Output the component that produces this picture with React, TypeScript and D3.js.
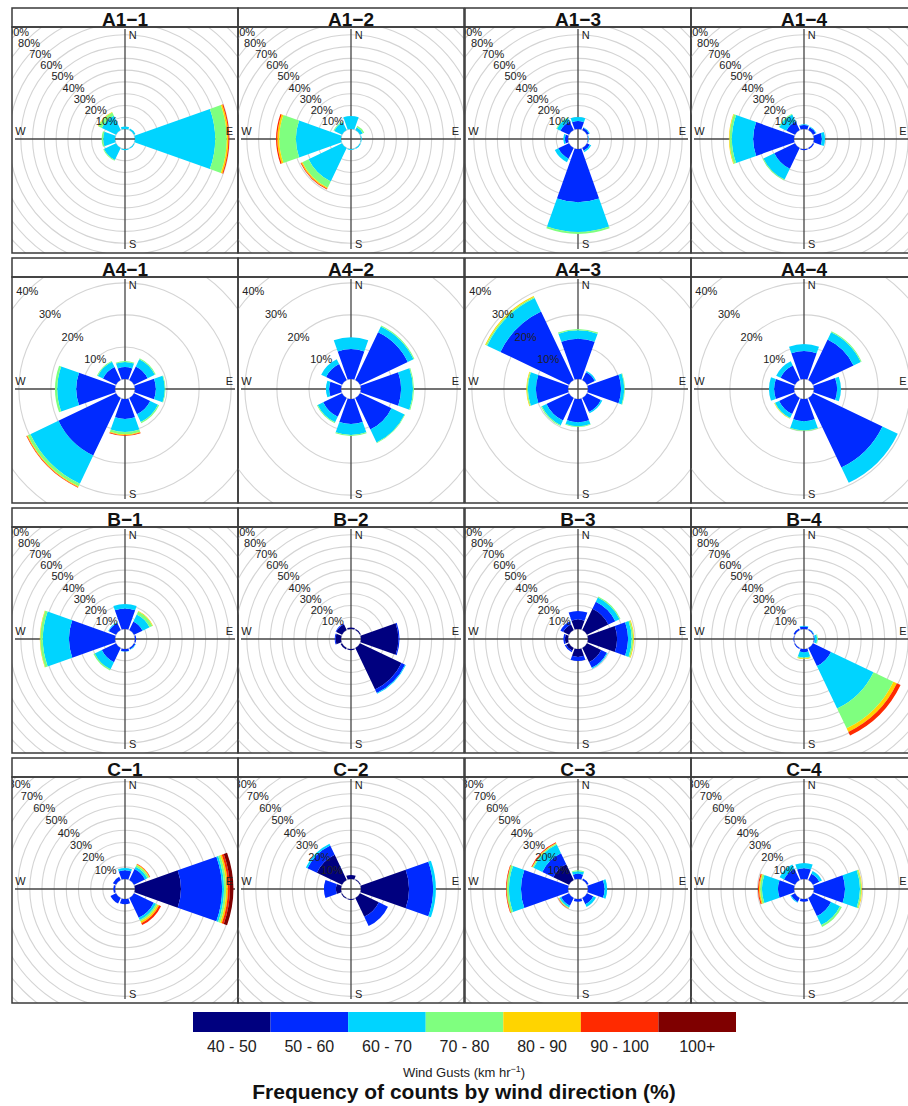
import React, { useEffect, useRef } from 'react';
import * as d3 from 'd3';

// speed classes (km/h) and their colours
const speedBins = ['40 - 50', '50 - 60', '60 - 70', '70 - 80', '80 - 90', '90 - 100', '100+'];
const binColors = ['#00007F', '#002AFF', '#00D4FF', '#7FFF7F', '#FFD400', '#FF2A00', '#7F0000'];

// wind direction sectors, degrees clockwise from north
const directions = [0, 45, 90, 135, 180, 225, 270, 315];
const compassPoints = ['N', 'E', 'S', 'W'];

const panelNames = [
    ['A1−1', 'A1−2', 'A1−3', 'A1−4'],
    ['A4−1', 'A4−2', 'A4−3', 'A4−4'],
    ['B−1', 'B−2', 'B−3', 'B−4'],
    ['C−1', 'C−2', 'C−3', 'C−4'],
];

// max frequency (%) of each row of roses, and the spacing of grey rings (%)
const rowMaxFreq = [63.7, 31.2, 63.7, 57.5];
const rowGridStep = [7.5, 10, 7.5, 7];
const labelStep = 10;

// frequency (%) per direction [N, NE, E, SE, S, SW, W, NW], per speed class
const A1_1 = [
    [0, 0, 1.5, 0, 0, 0, 0],
    [0, 0, 1, 0, 0, 0, 0],
    [0, 0, 51, 7.4, 1.0, 0.6, 0],
    [0, 0, 0.5, 0, 0, 0, 0],
    [0, 0, 0.8, 0, 0, 0, 0],
    [0, 0, 8.5, 0.5, 0, 0, 0],
    [0, 0, 7.5, 1, 0, 0, 0],
    [0, 0, 10, 2.3, 0.4, 0, 0],
];
const A1_2 = [
    [0, 0, 8.3, 0, 0, 0, 0],
    [0, 0, 2, 1, 0, 0, 0],
    [0, 0, 0.5, 0, 0, 0, 0],
    [0, 0, 0.6, 0, 0, 0, 0],
    [0, 0, 0.6, 0, 0, 0, 0],
    [0, 0, 23.6, 4.4, 0.8, 0.5, 0],
    [0, 0, 28.7, 10.6, 1.2, 0.8, 0],
    [0, 0, 5.5, 0.5, 0, 0, 0],
];
const A1_3 = [
    [0, 5, 2.6, 0, 0, 0, 0],
    [0, 1.5, 0.5, 0, 0, 0, 0],
    [0, 0.3, 0.3, 0, 0, 0, 0],
    [0, 2, 1, 0, 0, 0, 0],
    [0, 33.8, 19, 1.2, 0, 0, 0],
    [0, 7.5, 2.5, 0, 0, 0, 0],
    [0, 2, 1, 0, 0, 0, 0],
    [0, 6, 2.5, 0.5, 0, 0, 0],
];
const A1_4 = [
    [0, 2.5, 0.5, 0, 0, 0, 0],
    [0, 2, 0.5, 0, 0, 0, 0],
    [0, 5, 2, 0, 0, 0, 0],
    [0, 0.8, 0, 0, 0, 0, 0],
    [0, 0.8, 0, 0, 0, 0, 0],
    [0, 14.6, 7.7, 0.6, 0, 0, 0],
    [0, 26, 13.5, 1.5, 0.4, 0, 0],
    [0, 6, 5, 0.5, 0, 0, 0],
];
const A4_1 = [
    [0, 3.7, 1.6, 0.3, 0, 0, 0],
    [0, 4.7, 2.5, 0.3, 0, 0, 0],
    [0, 6.5, 2.8, 0.2, 0, 0, 0],
    [0, 5.6, 2.7, 0.4, 0, 0, 0],
    [0, 6.2, 4.1, 0.7, 0.3, 0.2, 0],
    [0, 19.9, 9.7, 0.9, 0.3, 0.2, 0],
    [0, 12.1, 5.9, 0.7, 0, 0, 0],
    [0, 4.5, 1.8, 0.3, 0, 0, 0],
];
const A4_2 = [
    [0, 9.3, 3.7, 0, 0, 0, 0],
    [0, 16.5, 2, 0.3, 0, 0, 0],
    [0, 12.5, 3.7, 0.3, 0, 0, 0],
    [0, 10.9, 4.5, 0.2, 0, 0, 0],
    [0, 7.8, 3.4, 0.3, 0, 0, 0],
    [0, 6.5, 1.9, 0.3, 0, 0, 0],
    [0, 3.7, 1, 0, 0, 0, 0],
    [0, 5.5, 1.7, 0, 0, 0, 0],
];
const A4_3 = [
    [0, 12.5, 2.7, 0.4, 0, 0, 0],
    [0, 2.7, 0.4, 0, 0, 0, 0],
    [0, 10.3, 1, 0.2, 0, 0, 0],
    [0, 4.8, 0.5, 0, 0, 0, 0],
    [0, 7.2, 1.3, 0.2, 0, 0, 0],
    [0, 7.8, 1.6, 0.3, 0, 0, 0],
    [0, 10, 2.5, 0.3, 0.2, 0, 0],
    [0, 23.7, 4.6, 0.4, 0.3, 0, 0],
];
const A4_4 = [
    [0, 8.7, 2.2, 0, 0, 0, 0],
    [0, 14, 2.5, 0.3, 0, 0, 0],
    [0, 7.2, 1.2, 0, 0, 0, 0],
    [0, 24, 5.3, 0, 0, 0, 0],
    [0, 6.9, 2.9, 0.2, 0, 0, 0],
    [0, 5.5, 1.4, 0.2, 0.1, 0, 0],
    [0, 6.2, 1.6, 0, 0, 0, 0],
    [0, 5, 1.5, 0, 0, 0, 0],
];
const B_1 = [
    [0, 13, 2.9, 0, 0, 0, 0],
    [0, 6, 5, 2, 0.4, 0, 0],
    [0, 0.8, 0, 0, 0, 0, 0],
    [0, 1, 0.3, 0, 0, 0, 0],
    [0, 1.5, 0.3, 0, 0, 0, 0],
    [0, 10, 5, 0.9, 0, 0, 0],
    [0, 29.3, 16.6, 1.6, 0.3, 0, 0],
    [0, 5, 0.5, 0, 0, 0, 0],
];
const B_2 = [
    [1, 0, 0, 0, 0, 0, 0],
    [0.6, 0, 0, 0, 0, 0, 0],
    [23.8, 0.7, 0, 0, 0, 0, 0],
    [29.3, 2.5, 0.5, 0, 0, 0, 0],
    [0.8, 0, 0, 0, 0, 0, 0],
    [1, 0, 0, 0, 0, 0, 0],
    [3.5, 0.5, 0, 0, 0, 0, 0],
    [4, 0.5, 0, 0, 0, 0, 0],
];
const B_3 = [
    [6, 5.5, 0, 0, 0, 0, 0],
    [15, 5, 3, 0.6, 0, 0, 0],
    [18.5, 7, 2.3, 1, 0.5, 0, 0],
    [10, 4, 0.6, 0, 0, 0, 0],
    [5, 2.6, 0, 0, 0, 0, 0],
    [2, 1, 0, 0, 0, 0, 0],
    [2, 1, 0, 0, 0, 0, 0],
    [4, 2, 0, 0, 0, 0, 0],
];
const B_4 = [
    [0, 1.5, 0.5, 0, 0, 0, 0],
    [0, 0.6, 0.3, 0, 0, 0, 0],
    [0, 0.5, 1.5, 0.5, 0, 0, 0],
    [0, 12.7, 30, 14, 2.5, 2.6, 0],
    [0, 2, 3.4, 0.7, 0.3, 0, 0],
    [0, 0.6, 0, 0, 0, 0, 0],
    [0, 0.4, 0, 0, 0, 0, 0],
    [0, 1, 0, 0, 0, 0, 0],
];
const C_1 = [
    [0, 5, 1.3, 0, 0, 0, 0],
    [0, 7, 1.5, 1, 0.5, 0.3, 0],
    [26.4, 23.6, 1.1, 1.2, 1, 1.2, 2],
    [0, 12.6, 1.4, 1, 1, 1.2, 0],
    [0, 3, 0, 0, 0, 0, 0],
    [0, 3.5, 0, 0, 0, 0, 0],
    [0, 1, 0, 0, 0, 0, 0],
    [0, 2, 0, 0, 0, 0, 0],
];
const C_2 = [
    [2.3, 0, 0, 0, 0, 0, 0],
    [0.5, 0, 0, 0, 0, 0, 0],
    [27.6, 13.8, 1.6, 0, 0, 0, 0],
    [12, 5.8, 0, 0, 0, 0, 0],
    [0.5, 0, 0, 0, 0, 0, 0],
    [0.5, 0, 0, 0, 0, 0, 0],
    [3, 6.8, 0, 0, 0, 0, 0],
    [16, 6, 1, 0, 0, 0, 0],
];
const C_3 = [
    [0, 3, 1.5, 0.5, 0, 0, 0],
    [0, 1, 0, 0, 0, 0, 0],
    [0, 9.5, 1.5, 0, 0, 0, 0],
    [0, 4, 1.7, 0, 0, 0, 0],
    [0, 1.5, 0, 0, 0, 0, 0],
    [0, 5, 1, 0.5, 0.2, 0.2, 0],
    [0, 27, 6.9, 1.1, 0.3, 0.3, 0],
    [10, 7, 5.6, 0.6, 0.4, 0.4, 0],
];
const C_4 = [
    [0, 6.1, 3.1, 0, 0, 0, 0],
    [0, 4, 1.7, 0, 0, 0, 0],
    [0, 17.8, 8.6, 0.8, 0.4, 0, 0],
    [0, 11.5, 5.7, 1.2, 0, 0, 0],
    [0, 1.5, 0, 0, 0, 0, 0],
    [0, 2.5, 0.5, 0, 0, 0, 0],
    [0, 9.2, 9.2, 1.1, 0.6, 0.6, 0],
    [0, 7, 2.8, 0, 0, 0, 0],
];

const panelData = [
    [A1_1, A1_2, A1_3, A1_4],
    [A4_1, A4_2, A4_3, A4_4],
    [B_1, B_2, B_3, B_4],
    [C_1, C_2, C_3, C_4],
];

const FONT = '"Liberation Sans", Arial, Helvetica, sans-serif';
const PAGE_W = 908;

const WindRoses = () => {
    const svgRef = useRef(null);

    useEffect(() => {
        const svg = d3.select(svgRef.current);
        svg.selectAll('*').remove();

        const colX = [12, 238, 465, 691];
        const rowY = [8, 258, 508, 758];
        const panelW = 226;
        const stripH = 19;
        const plotH = 226;
        const border = '#3a3a3a';
        const halfSector = 19.5; // degrees, sectors are trimmed a little to leave gaps

        const toRad = (deg) => (deg * Math.PI) / 180;
        const defs = svg.append('defs');

        panelData.forEach((row, ri) => {
            const maxFreq = rowMaxFreq[ri];
            // radial scale: off-set hole of 10% of max, panel edge just beyond max
            const rScale = d3.scaleLinear().domain([0, maxFreq]).range([10, 110]);
            const upper = rScale(maxFreq);

            row.forEach((dirs, ci) => {
                const g = svg.append('g').attr('transform', `translate(${colX[ci]},${rowY[ri]})`);
                const clipId = `clip-${ri}-${ci}`;
                defs.append('clipPath').attr('id', clipId)
                    .append('rect').attr('x', 0).attr('y', stripH).attr('width', panelW).attr('height', plotH);

                const cx = panelW / 2;
                const plot = g.append('g').attr('clip-path', `url(#${clipId})`)
                    .append('g').attr('transform', `translate(${cx},${stripH + plotH / 2 - 1})`);

                // grey grid rings
                const rings = d3.range(0, maxFreq * 2.6, rowGridStep[ri]);
                plot.selectAll('circle.ring').data(rings).enter().append('circle')
                    .attr('class', 'ring')
                    .attr('r', d => rScale(d))
                    .attr('fill', 'none')
                    .attr('stroke', '#d4d4d4')
                    .attr('stroke-width', 1.1);

                // axis cross
                plot.append('line').attr('x1', -upper).attr('x2', upper).attr('y1', 0).attr('y2', 0)
                    .attr('stroke', '#444').attr('stroke-width', 1.3);
                plot.append('line').attr('y1', -upper).attr('y2', upper).attr('x1', 0).attr('x2', 0)
                    .attr('stroke', '#444').attr('stroke-width', 1.3);

                // stacked sectors
                const arc = d3.arc();
                dirs.forEach((bins, di) => {
                    const angle = directions[di];
                    let cum = 0;
                    bins.forEach((v, bi) => {
                        if (v <= 0) return;
                        plot.append('path')
                            .attr('d', arc({
                                innerRadius: rScale(cum),
                                outerRadius: rScale(cum + v),
                                startAngle: toRad(angle - halfSector),
                                endAngle: toRad(angle + halfSector),
                            }))
                            .attr('fill', binColors[bi]);
                        cum += v;
                    });
                });

                // percentage labels along the NW diagonal (only those whose centre is inside the panel)
                const labelVals = d3.range(labelStep, maxFreq * 2.6, labelStep)
                    .filter(d => rScale(d) * Math.SQRT1_2 < cx - 4);
                plot.selectAll('text.pct').data(labelVals).enter().append('text')
                    .attr('class', 'pct')
                    .attr('x', d => -rScale(d) * Math.SQRT1_2)
                    .attr('y', d => -rScale(d) * Math.SQRT1_2)
                    .attr('text-anchor', 'middle')
                    .attr('dominant-baseline', 'central')
                    .style('font-family', FONT)
                    .style('font-size', '11px')
                    .attr('fill', '#222')
                    .text(d => `${d}%`);

                // compass letters (kept inside the page for the rightmost column)
                const maxLocalX = PAGE_W - colX[ci] - cx - 5;
                const compassPos = {
                    N: [0.07 * upper, -0.95 * upper],
                    E: [Math.min(0.95 * upper, maxLocalX), -0.07 * upper],
                    S: [0.07 * upper, 0.95 * upper],
                    W: [-0.95 * upper, -0.07 * upper],
                };
                compassPoints.forEach(p => {
                    g.append('text')
                        .attr('x', cx + compassPos[p][0])
                        .attr('y', stripH + plotH / 2 - 1 + compassPos[p][1])
                        .attr('text-anchor', 'middle')
                        .attr('dominant-baseline', 'central')
                        .style('font-family', FONT)
                        .style('font-size', '11px')
                        .attr('fill', '#222')
                        .text(p);
                });

                // strip + panel frames
                g.append('rect').attr('x', 0).attr('y', 0).attr('width', panelW).attr('height', stripH)
                    .attr('fill', 'none').attr('stroke', border).attr('stroke-width', 1.5);
                g.append('rect').attr('x', 0).attr('y', stripH).attr('width', panelW).attr('height', plotH)
                    .attr('fill', 'none').attr('stroke', border).attr('stroke-width', 1.5);
                g.append('text')
                    .attr('x', panelW / 2)
                    .attr('y', stripH - 1)
                    .attr('text-anchor', 'middle')
                    .style('font-family', FONT)
                    .style('font-size', '19px')
                    .style('font-weight', 'bold')
                    .attr('fill', '#111')
                    .text(panelNames[ri][ci]);
            });
        });

        // colour key
        const keyX = d3.scaleBand().domain(speedBins).range([193, 736]);
        const key = svg.append('g');
        key.selectAll('rect').data(speedBins).enter().append('rect')
            .attr('x', d => keyX(d))
            .attr('y', 1012)
            .attr('width', keyX.bandwidth())
            .attr('height', 20)
            .attr('fill', (d, i) => binColors[i]);
        key.selectAll('text.bin').data(speedBins).enter().append('text')
            .attr('class', 'bin')
            .attr('x', d => keyX(d) + keyX.bandwidth() / 2)
            .attr('y', 1052)
            .attr('text-anchor', 'middle')
            .style('font-family', FONT)
            .style('font-size', '16px')
            .attr('fill', '#222')
            .text(d => d);

        const unit = key.append('text')
            .attr('x', 464)
            .attr('y', 1077)
            .attr('text-anchor', 'middle')
            .style('font-family', FONT)
            .style('font-size', '13px')
            .attr('fill', '#222');
        unit.append('tspan').text('Wind Gusts (km hr');
        unit.append('tspan').attr('dy', -5).style('font-size', '9px').text('−1');
        unit.append('tspan').attr('dy', 5).text(')');

        key.append('text')
            .attr('x', 464)
            .attr('y', 1099)
            .attr('text-anchor', 'middle')
            .style('font-family', FONT)
            .style('font-size', '21px')
            .style('font-weight', 'bold')
            .attr('fill', '#111')
            .text('Frequency of counts by wind direction (%)');
    }, []);

    return (
        <svg
            ref={svgRef}
            width={PAGE_W}
            height={1106}
            style={{ position: 'absolute', left: 0, top: 0, background: '#fff' }}
        />
    );
};

export default function App() {
    return <WindRoses />;
}
